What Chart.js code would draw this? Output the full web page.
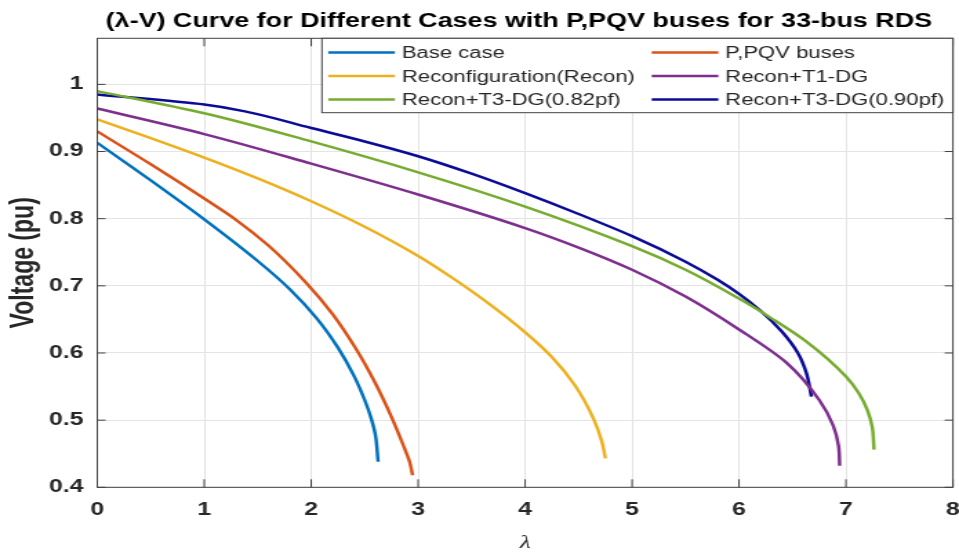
<!DOCTYPE html>
<html>
<head>
<meta charset="utf-8">
<title>Lambda-V curves, 33-bus RDS</title>
<script src="https://cdn.jsdelivr.net/npm/chart.js@4.4.1/dist/chart.umd.min.js"></script>
<style>
  html, body { margin: 0; padding: 0; background: #fff; }
</style>
</head>
<body>
<!-- drawn narrow, shown wide (same aspect as the exported figure) -->
<canvas id="pv" width="695" height="552" style="display:block;width:959px;height:552px"></canvas>
<script>
// loading factor (lambda) and voltage (pu) for each case
var baseLambda = [0, 0.5, 1.0, 1.5, 1.8, 2.05, 2.25, 2.4, 2.5, 2.56, 2.6, 2.626];
var baseV      = [0.913, 0.857, 0.799, 0.737, 0.695, 0.652, 0.608, 0.566, 0.530, 0.503, 0.478, 0.438];

var pqvLambda = [0, 0.5, 1.0, 1.3, 1.6, 1.95, 2.2, 2.42, 2.6, 2.75, 2.86, 2.92, 2.948];
var pqvV      = [0.930, 0.881, 0.830, 0.798, 0.760, 0.705, 0.658, 0.606, 0.555, 0.505, 0.463, 0.438, 0.418];

var reconLambda = [0, 0.5, 1.0, 1.5, 2.0, 2.5, 3.016, 3.327, 3.639, 4.006, 4.25, 4.465, 4.64, 4.718, 4.751];
var reconV      = [0.948, 0.920, 0.891, 0.860, 0.826, 0.788, 0.743, 0.711, 0.676, 0.630, 0.594, 0.552, 0.502, 0.468, 0.443];

var t1Lambda = [0, 1.0, 2.0, 3.0, 4.0, 4.5, 5.0, 5.5, 6.0, 6.44, 6.75, 6.88, 6.93, 6.941];
var t1V      = [0.964, 0.926, 0.882, 0.836, 0.786, 0.757, 0.724, 0.684, 0.635, 0.586, 0.530, 0.492, 0.462, 0.432];

var t3aLambda = [0, 1.0, 2.0, 3.0, 4.0, 5.0, 5.5, 6.0, 6.3, 6.63, 7.0, 7.12, 7.2, 7.245, 7.262];
var t3aV      = [0.990, 0.957, 0.915, 0.869, 0.818, 0.759, 0.724, 0.681, 0.652, 0.617, 0.565, 0.540, 0.515, 0.490, 0.456];

var t3bLambda = [0, 1.0, 1.4, 2.0, 2.5, 3.0, 3.5, 4.0, 4.5, 5.0, 5.5, 5.8, 6.0, 6.2, 6.4, 6.55, 6.63, 6.677];
var t3bV      = [0.985, 0.970, 0.959, 0.935, 0.915, 0.893, 0.867, 0.838, 0.807, 0.774, 0.736, 0.709, 0.688, 0.663, 0.632, 0.600, 0.570, 0.535];

var caseNames = ['Base case', 'P,PQV buses', 'Reconfiguration(Recon)', 'Recon+T1-DG',
                 'Recon+T3-DG(0.82pf)', 'Recon+T3-DG(0.90pf)'];
var caseColors = ['#0072BD', '#D95319', '#EDB120', '#7E2F8E', '#77AC30', '#0B0B96'];

var xTicks = [0, 1, 2, 3, 4, 5, 6, 7, 8];
var yTicks = [0.4, 0.5, 0.6, 0.7, 0.8, 0.9, 1];

var titleText = '(\u03bb-V) Curve for Different Cases with P,PQV buses for 33-bus RDS';

var sans = '"Liberation Sans", Arial, Helvetica, sans-serif';
var ink = '#262626';

function pts(lam, v) {
    return lam.map(function(l, i) { return {x: l, y: v[i]}; });
}

var series = [
    pts(baseLambda, baseV), pts(pqvLambda, pqvV), pts(reconLambda, reconV),
    pts(t1Lambda, t1V), pts(t3aLambda, t3aV), pts(t3bLambda, t3bV)
];

// box, inward ticks, legend and title in the MATLAB figure style
var figureDecor = {
    id: 'figureDecor',
    afterDatasetsDraw: function(chart) {
        var ctx = chart.ctx, a = chart.chartArea;
        var xs = chart.scales.x, ys = chart.scales.y;
        ctx.save();

        ctx.strokeStyle = '#404040';
        ctx.lineWidth = 1;
        ctx.strokeRect(a.left, a.top, a.right - a.left, a.bottom - a.top);

        ctx.beginPath();
        xTicks.forEach(function(v) {
            var px = xs.getPixelForValue(v);
            ctx.moveTo(px, a.bottom); ctx.lineTo(px, a.bottom - 8);
            ctx.moveTo(px, a.top); ctx.lineTo(px, a.top + 8);
        });
        yTicks.forEach(function(v) {
            var py = ys.getPixelForValue(v);
            ctx.moveTo(a.left, py); ctx.lineTo(a.left + 6, py);
            ctx.moveTo(a.right, py); ctx.lineTo(a.right - 6, py);
        });
        ctx.stroke();

        // legend, two columns
        var boxL = 233.3, boxT = a.top, boxR = a.right, boxB = 112.7;
        ctx.fillStyle = '#fff';
        ctx.fillRect(boxL, boxT, boxR - boxL, boxB - boxT);
        ctx.strokeStyle = '#404040';
        ctx.lineWidth = 1;
        ctx.strokeRect(boxL, boxT, boxR - boxL, boxB - boxT);

        ctx.font = '16px ' + sans;
        ctx.textBaseline = 'middle';
        ctx.textAlign = 'left';
        chart.data.datasets.forEach(function(ds, i) {
            var col = i % 2, row = Math.floor(i / 2);
            var cy = 52.5 + row * 23.5;
            var x0 = col ? 472.3 : 237.9;
            var x1 = col ? 520.6 : 286.2;
            ctx.strokeStyle = ds.borderColor;
            ctx.lineWidth = 2.5;
            ctx.beginPath();
            ctx.moveTo(x0, cy); ctx.lineTo(x1, cy);
            ctx.stroke();
            ctx.fillStyle = ink;
            ctx.fillText(ds.label, x1 + 5, cy + 1.5);
        });

        // title over the axes
        ctx.fillStyle = '#000';
        ctx.font = 'bold 19.5px ' + sans;
        ctx.textAlign = 'center';
        ctx.fillText(titleText, (a.left + a.right) / 2 - 4.5, 22);
        ctx.restore();
    }
};

var ctx = document.getElementById('pv').getContext('2d');
var pvChart = new Chart(ctx, {
    type: 'line',
    data: {
        datasets: series.map(function(d, i) {
            return {
                label: caseNames[i],
                data: d,
                borderColor: caseColors[i],
                backgroundColor: caseColors[i],
                borderWidth: 2.5,
                pointRadius: 0,
                fill: false,
                cubicInterpolationMode: 'monotone'
            };
        })
    },
    options: {
        // voltage is the index axis: lambda(V) stays smooth up to the nose point
        indexAxis: 'y',
        responsive: false,
        animation: false,
        devicePixelRatio: 1,
        events: [],
        layout: { autoPadding: false, padding: { top: 38.3, right: 4.4, bottom: 0, left: 0 } },
        plugins: {
            legend: { display: false },
            title: { display: false },
            tooltip: { enabled: false }
        },
        scales: {
            x: {
                type: 'linear',
                position: 'bottom',
                min: 0,
                max: 8,
                afterBuildTicks: function(s) { s.ticks = xTicks.map(function(v) { return {value: v}; }); },
                afterFit: function(s) {
                    s.height = 64.7;
                    s.paddingLeft = 0;
                    s.paddingRight = 0;
                },
                grid: { color: '#e4e4e4', drawTicks: false },
                border: { display: false },
                ticks: {
                    padding: 12,
                    color: ink,
                    font: { family: sans, size: 18, weight: 'bold' }
                },
                title: {
                    display: true,
                    text: '\u03bb',
                    color: ink,
                    padding: 0,
                    font: { family: '"Liberation Serif", "Times New Roman", serif', size: 18, style: 'italic', lineHeight: 1 }
                }
            },
            y: {
                type: 'linear',
                position: 'left',
                min: 0.4,
                max: 1.0686,
                afterBuildTicks: function(s) { s.ticks = yTicks.map(function(v) { return {value: v}; }); },
                afterFit: function(s) {
                    s.width = 70.5;
                    s.paddingTop = 0;
                    s.paddingBottom = 0;
                },
                grid: { color: '#e4e4e4', drawTicks: false },
                border: { display: false },
                ticks: {
                    padding: 10,
                    color: ink,
                    font: { family: sans, size: 18, weight: 'bold' },
                    callback: function(v) { return String(Math.round(v * 10) / 10); }
                },
                title: {
                    display: true,
                    text: 'Voltage (pu)',
                    color: ink,
                    padding: { top: 4, bottom: 0 },
                    font: { family: sans, size: 23, weight: 'bold' }
                }
            }
        }
    },
    plugins: [figureDecor]
});
</script>
</body>
</html>
